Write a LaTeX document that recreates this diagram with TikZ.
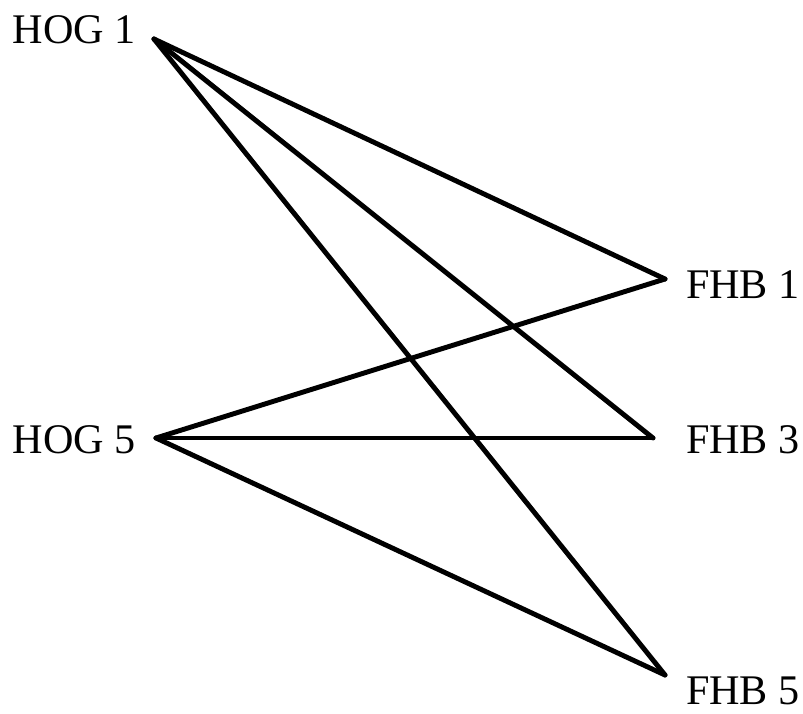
\documentclass[tikz,border=0pt]{standalone}
\usepackage{fontspec}
\setmainfont{Liberation Serif}
\usetikzlibrary{positioning}

\begin{document}
\begin{tikzpicture}[
  x=0.025cm, y=-0.025cm,
  font=\fontsize{30}{36}\selectfont,
  lbl/.style={inner sep=0pt, outer sep=0pt},
  edge/.style={line width=3.5pt, line cap=round, line join=round},
]
\useasboundingbox (0,0) rectangle (803,713);
% line ends
\coordinate (hog1) at (154,39);
\coordinate (hog5) at (156,438);
\coordinate (fhb1) at (665,279);
\coordinate (fhb3) at (653,438);
\coordinate (fhb5) at (665,675);
% labels
\node[lbl, anchor=base west] (thog1) at (13,43) {HOG 1};
\node[lbl, anchor=base west] (thog5) at (13,453) {HOG 5};
\node[lbl, anchor=base west] (tfhb1) at (686,298) {FHB 1};
\node[lbl, anchor=base west] (tfhb3) at (686,453) {FHB 3};
\node[lbl, anchor=base west] (tfhb5) at (686,704) {FHB 5};
% edges
\draw[edge] (hog1) -- (fhb1);
\draw[edge] (hog1) -- (fhb3);
\draw[edge] (hog1) -- (fhb5);
\draw[edge] (hog5) -- (fhb1);
\draw[edge] (hog5) -- (fhb3);
\draw[edge] (hog5) -- (fhb5);
\end{tikzpicture}
\end{document}
